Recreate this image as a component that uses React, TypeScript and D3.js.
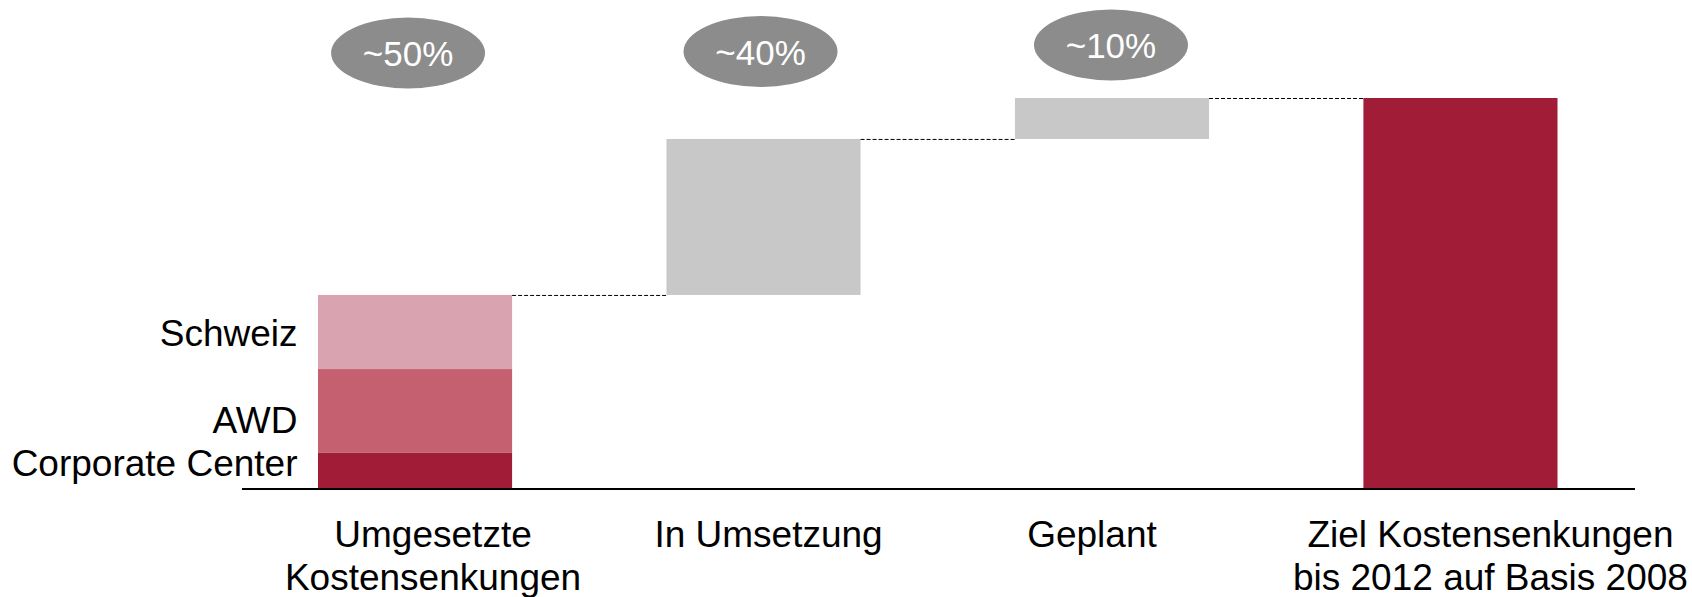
import React from "react";
import * as d3 from "d3";

const categories = ["Umgesetzte", "In Umsetzung", "Geplant", "Ziel"];
const categoryLabels = [
  ["Umgesetzte", "Kostensenkungen"],
  ["In Umsetzung"],
  ["Geplant"],
  ["Ziel Kostensenkungen", "bis 2012 auf Basis 2008"],
];
const segmentNames = ["Corporate Center", "AWD", "Schweiz"];
const segmentValues = [9, 21.5, 19];
const stepValues = [40, 10.5];
const totalValue = 100;
const bubbleLabels = ["~50%", "~40%", "~10%"];

const W = 1692;
const H = 597;
const FONT = "'Liberation Sans', Arial, sans-serif";
const segColors = ["#a01c37", "#c4606f", "#d9a3b0"];
const grey = "#c8c8c8";
const totalColor = "#a01c37";
const bubbleColor = "#8c8c8c";
const labelDx = [18, 5, -20, 30];
const segLabelDy = [6, 22, 14];
const bubbleDx = [-7, -3, -1];
const bubbleCy = [53, 51.5, 45];

export default function App() {
  const x = d3.scaleBand<string>().domain(categories).range([318, 1557.5]).paddingInner(0.443).paddingOuter(0);
  const y = d3.scaleLinear().domain([0, 100]).range([488, 98]);
  const bw = x.bandwidth();

  const stack: { name: string; y0: number; y1: number; color: string }[] = [];
  let acc = 0;
  segmentValues.forEach((v, i) => {
    stack.push({ name: segmentNames[i], y0: acc, y1: acc + v, color: segColors[i] });
    acc += v;
  });
  const firstTotal = acc;

  const floats: { cat: string; y0: number; y1: number }[] = [];
  let base = firstTotal;
  stepValues.forEach((v, i) => {
    floats.push({ cat: categories[i + 1], y0: base, y1: base + v });
    base += v;
  });

  const levels = [firstTotal, ...floats.map((f) => f.y1)];
  const connectors = levels.map((lv, i) => ({
    x1: (x(categories[i]) as number) + bw,
    x2: x(categories[i + 1]) as number,
    y: y(lv),
  }));

  return (
    <svg width={W} height={H} style={{ position: "absolute", left: 0, top: 0, background: "#fff" }} fontFamily={FONT}>
      {stack.map((s) => (
        <rect key={s.name} x={x(categories[0])} y={y(s.y1)} width={bw} height={y(s.y0) - y(s.y1)} fill={s.color} />
      ))}
      {floats.map((f) => (
        <rect key={f.cat} x={x(f.cat)} y={y(f.y1)} width={bw} height={y(f.y0) - y(f.y1)} fill={grey} />
      ))}
      <rect x={x(categories[3])} y={y(totalValue)} width={bw} height={y(0) - y(totalValue)} fill={totalColor} />
      {connectors.map((c, i) => (
        <line key={i} x1={c.x1} x2={c.x2} y1={c.y + 0.5} y2={c.y + 0.5} stroke="#000" strokeWidth={1} strokeDasharray="4,2" />
      ))}
      <line x1={242} x2={1635} y1={y(0) + 1} y2={y(0) + 1} stroke="#000" strokeWidth={2} />
      {stack.map((s, i) => (
        <text key={s.name} x={297.5} y={(y(s.y0) + y(s.y1)) / 2 + segLabelDy[i]} textAnchor="end" fontSize={37} fill="#000">
          {s.name}
        </text>
      ))}
      {categoryLabels.map((lines, i) => (
        <text key={i} x={(x(categories[i]) as number) + bw / 2 + labelDx[i]} textAnchor="middle" fontSize={37} fill="#000">
          {lines.map((ln, j) => (
            <tspan key={j} x={(x(categories[i]) as number) + bw / 2 + labelDx[i]} y={547 + j * 43.3}>
              {ln}
            </tspan>
          ))}
        </text>
      ))}
      {bubbleLabels.map((b, i) => {
        const cx = (x(categories[i]) as number) + bw / 2 + bubbleDx[i];
        return (
          <g key={b}>
            <ellipse cx={cx} cy={bubbleCy[i]} rx={77} ry={35.5} fill={bubbleColor} />
            <text x={cx} y={bubbleCy[i] + 13} textAnchor="middle" fontSize={35} fill="#fff">
              {b}
            </text>
          </g>
        );
      })}
    </svg>
  );
}
